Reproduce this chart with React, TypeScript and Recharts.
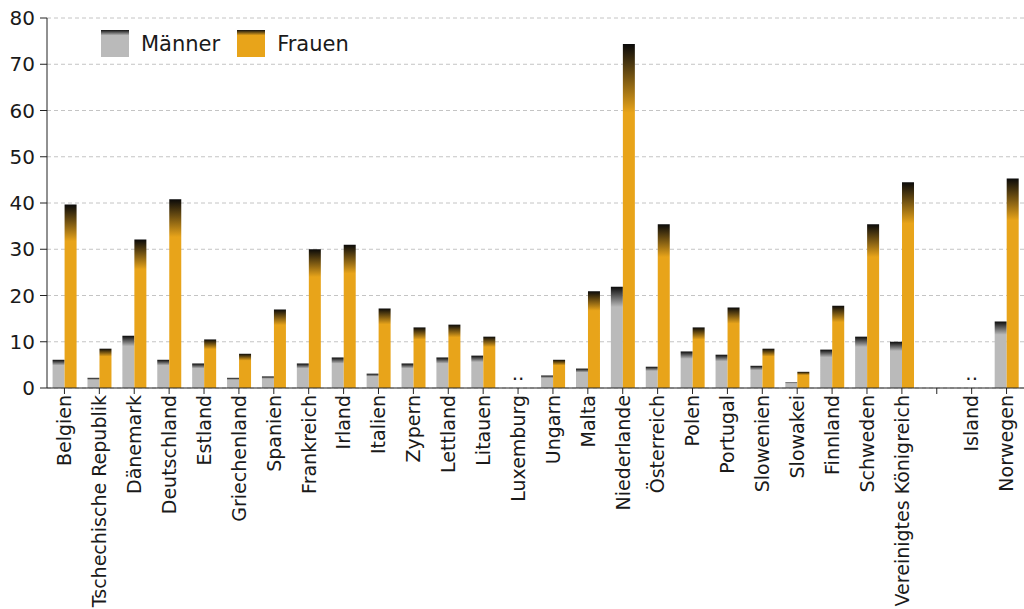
import React from "react";
import {
  Bar, BarChart, CartesianGrid, ReferenceDot, XAxis, YAxis,
} from "recharts";

const countries = [
  "Belgien", "Tschechische Republik", "Dänemark", "Deutschland", "Estland",
  "Griechenland", "Spanien", "Frankreich", "Irland", "Italien", "Zypern",
  "Lettland", "Litauen", "Luxemburg", "Ungarn", "Malta", "Niederlande",
  "Österreich", "Polen", "Portugal", "Slowenien", "Slowakei", "Finnland",
  "Schweden", "Vereinigtes Königreich", "", "Island", "Norwegen",
];
const maenner = [
  6.1, 2.2, 11.3, 6.1, 5.3, 2.2, 2.5, 5.3, 6.6, 3.1, 5.3, 6.6, 7.0, null,
  2.7, 4.2, 21.9, 4.6, 7.9, 7.2, 4.8, 1.2, 8.3, 11.1, 10.0, null, null, 14.4,
];
const frauen = [
  39.7, 8.5, 32.1, 40.8, 10.5, 7.4, 17.0, 30.0, 31.0, 17.2, 13.1, 13.7, 11.1, null,
  6.1, 20.9, 74.4, 35.4, 13.1, 17.4, 8.5, 3.5, 17.8, 35.4, 44.5, null, null, 45.3,
];
// countries without data, shown as ".."
const missing = ["Luxemburg", "Island"];
const yTicks = [0, 10, 20, 30, 40, 50, 60, 70, 80];

const data = countries.map((c, i) => ({ land: c, m: maenner[i], f: frauen[i] }));

const FONT = "'DejaVu Sans', Verdana, sans-serif";
const GREY = "#bababa";
const ORANGE = "#e8a41a";

function XTick({ x, y, payload }: any) {
  const ty = y - 1;
  return (
    <text
      x={x}
      y={ty}
      dy="0.36em"
      transform={`rotate(-90, ${x}, ${ty})`}
      textAnchor="end"
      fill="#1a1a1a"
      fontSize={19}
      fontFamily={FONT}
    >
      {payload.value}
    </text>
  );
}

function DotsLabel({ viewBox }: any) {
  const cx = viewBox.x + (viewBox.width || 0) / 2;
  return (
    <text x={cx} y={viewBox.y - 8} textAnchor="middle" fill="#1a1a1a" fontSize={20} fontFamily={FONT}>
      ..
    </text>
  );
}

function LegendBox() {
  const item = (label: string, color: string) => (
    <div style={{ display: "flex", alignItems: "center", marginRight: 17 }}>
      <div
        style={{
          width: 28,
          height: 27,
          background: `linear-gradient(to bottom, #111 0%, ${color} 20%, ${color} 100%)`,
          marginRight: 12,
        }}
      />
      <span style={{ fontSize: 21, fontFamily: FONT, color: "#1a1a1a" }}>{label}</span>
    </div>
  );
  return (
    <div style={{ position: "absolute", left: 101, top: 30, display: "flex" }}>
      {item("Männer", GREY)}
      {item("Frauen", ORANGE)}
    </div>
  );
}

export default function App() {
  return (
    <div style={{ position: "absolute", left: 0, top: 0, width: 1024, height: 609, background: "#fff" }}>
      <BarChart
        width={1024}
        height={609}
        data={data}
        margin={{ top: 18, right: 0, left: 0, bottom: 0 }}
        barCategoryGap="16%"
        barGap={0}
      >
        <defs>
          <linearGradient id="gM" x1="0" y1="0" x2="0" y2="1">
            <stop offset="0%" stopColor="#0a0a0a" />
            <stop offset="20%" stopColor={GREY} />
            <stop offset="100%" stopColor={GREY} />
          </linearGradient>
          <linearGradient id="gF" x1="0" y1="0" x2="0" y2="1">
            <stop offset="0%" stopColor="#0a0a0a" />
            <stop offset="20%" stopColor={ORANGE} />
            <stop offset="100%" stopColor={ORANGE} />
          </linearGradient>
        </defs>
        <CartesianGrid stroke="#c4c4c4" strokeDasharray="4 3" vertical={false} />
        <XAxis
          dataKey="land"
          interval={0}
          height={221}
          tickSize={6}
          tickLine={{ stroke: "#222" }}
          axisLine={{ stroke: "#222" }}
          tick={<XTick />}
        />
        <YAxis
          domain={[0, 80]}
          ticks={yTicks}
          width={47}
          tickSize={7}
          tickMargin={5}
          tickLine={{ stroke: "#222" }}
          axisLine={{ stroke: "#222" }}
          tick={{ fill: "#1a1a1a", fontSize: 20, fontFamily: FONT }}
        />
        <Bar dataKey="m" name="Männer" fill="url(#gM)" isAnimationActive={false} />
        <Bar dataKey="f" name="Frauen" fill="url(#gF)" isAnimationActive={false} />
        {missing.map((c) => (
          <ReferenceDot
            key={c}
            x={c}
            y={0}
            r={0}
            stroke="none"
            fill="none"
            label={<DotsLabel />}
          />
        ))}
      </BarChart>
      <LegendBox />
    </div>
  );
}
